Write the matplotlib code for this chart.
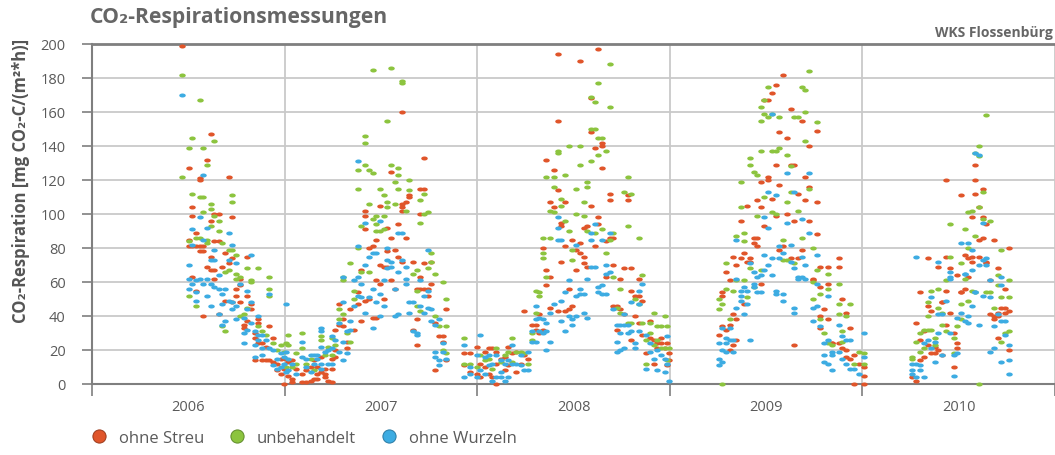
import numpy as np
import matplotlib
matplotlib.use("Agg")
import matplotlib.pyplot as plt
from matplotlib.lines import Line2D
from matplotlib.ticker import MultipleLocator, FixedLocator, FixedFormatter

plt.rcParams['font.family'] = ['Open Sans', 'DejaVu Sans']

ohne_streu = [
    # 2006
    (2006.467, [199]), (2006.502, [127, 85, 81]), (2006.519, [104, 99, 81, 63]),
    (2006.540, [89, 81, 55]), (2006.560, [120, 121, 81, 78]), (2006.578, [81, 78, 40]),
    (2006.598, [132, 69]), (2006.619, [147, 96, 75, 67]), (2006.636, [100, 84, 67, 62]),
    (2006.657, [100, 84, 41]), (2006.674, [69]), (2006.691, [77, 49]),
    (2006.712, [122, 71]), (2006.729, [98, 74, 48]), (2006.750, [56, 52]),
    (2006.767, [62, 58, 48]), (2006.788, [35, 33]), (2006.807, [75, 52, 37]),
    (2006.826, [47, 44]), (2006.845, [30, 27, 14]), (2006.864, [38, 36, 24]),
    (2006.884, [24, 14]), (2006.902, [14, 22]), (2006.921, [34, 14]),
    (2006.940, [27, 13]), (2006.960, [12, 8]), (2006.979, [15, 6]), (2006.997, [9, 0]),
    # 2007
    (2007.005, [15]), (2007.019, [13, 5]), (2007.036, [3, 14, 1]), (2007.057, [9]),
    (2007.092, [6, 1]), (2007.112, [8, 1]), (2007.135, [10, 2]), (2007.152, [14, 3]),
    (2007.169, [10, 6, 3]), (2007.190, [16, 7]), (2007.209, [9, 6, 4]), (2007.226, [2]),
    (2007.247, [15, 9, 1]), (2007.264, [32, 20, 16]), (2007.285, [47, 35]), (2007.304, [38, 34]),
    (2007.325, [25, 21]), (2007.342, [44]), (2007.359, [32]), (2007.380, [54, 47]),
    (2007.399, [67, 37]), (2007.418, [102, 99, 91, 49]), (2007.437, [80, 50]), (2007.458, [81, 39]),
    (2007.475, [85, 61, 39]), (2007.496, [105, 70, 59]), (2007.515, [50, 69]), (2007.534, [92, 78, 69]),
    (2007.554, [125, 86, 61]), (2007.572, [79, 56]), (2007.589, [94, 75]),
    (2007.610, [160, 104, 102, 72, 106]), (2007.629, [107, 86]), (2007.648, [111, 110]),
    (2007.668, [72, 32]), (2007.687, [56, 38, 23]), (2007.705, [115, 100, 63, 56]),
    (2007.725, [133, 115, 56, 71]), (2007.743, [56, 52]), (2007.762, [72, 59]),
    (2007.782, [36, 8]), (2007.800, [28]), (2007.820, [28, 25]), (2007.839, [44, 14]),
    (2007.930, [18, 11]), (2007.965, [18, 7]), (2007.997, [22, 6]),
    # 2008
    (2008.017, [12, 4]), (2008.038, [19, 10]), (2008.059, [21, 6]), (2008.079, [21, 4]),
    (2008.100, [19, 12, 0]), (2008.121, [15]), (2008.142, [16, 8]), (2008.162, [22, 11]),
    (2008.183, [18]), (2008.204, [19, 7]), (2008.225, [12]), (2008.245, [17, 43]),
    (2008.266, [15]), (2008.283, [35]), (2008.304, [35, 32]), (2008.321, [41, 30]),
    (2008.342, [80, 32]), (2008.359, [132, 67, 58]), (2008.380, [107, 45, 63]),
    (2008.399, [126, 104]), (2008.418, [194, 155, 114, 43]), (2008.437, [95, 93, 72]),
    (2008.456, [107, 81, 43]), (2008.475, [56, 44]), (2008.494, [85, 46]), (2008.515, [67, 79]),
    (2008.534, [190, 83, 77]), (2008.553, [92, 75, 71]), (2008.572, [93, 69]),
    (2008.591, [168, 148, 105]), (2008.610, [139, 81]), (2008.629, [197, 98, 94]),
    (2008.649, [142, 140, 127]), (2008.667, [84, 63]), (2008.687, [112, 108, 86]),
    (2008.706, [86, 70, 46]), (2008.725, [46, 32]), (2008.744, [62, 44]), (2008.763, [68, 41]),
    (2008.782, [111, 108]), (2008.801, [68, 55, 26]), (2008.820, [52, 40]),
    (2008.839, [62, 52, 36]), (2008.858, [49, 29]), (2008.877, [18]), (2008.896, [37, 27]),
    (2008.917, [26, 12]), (2008.936, [24, 21]), (2008.955, [27, 24]), (2008.974, [21]),
    (2008.985, [24, 11]), (2008.995, [18, 14]),
    # 2009
    (2009.255, [29]), (2009.273, [54, 52, 34]), (2009.290, [66, 32]), (2009.311, [61, 35, 20]),
    (2009.328, [75, 41, 23]), (2009.345, [70, 38, 26]), (2009.368, [96, 74]), (2009.385, [77, 47]),
    (2009.403, [105, 72]), (2009.415, [74, 72]), (2009.436, [86, 83]), (2009.455, [108, 86, 81]),
    (2009.472, [119, 104, 59]), (2009.491, [167, 93]), (2009.509, [167, 120, 122]),
    (2009.530, [171, 109]), (2009.550, [176, 129, 99]), (2009.568, [148, 117, 79]),
    (2009.589, [182, 81]), (2009.608, [145, 100]), (2009.627, [162, 129, 74]),
    (2009.646, [129, 96, 23]), (2009.665, [112, 74]), (2009.684, [155, 79]),
    (2009.703, [108, 122]), (2009.724, [140, 116, 96]), (2009.741, [61, 62]),
    (2009.762, [149, 107, 88]), (2009.780, [69, 40, 57, 33]), (2009.800, [44]),
    (2009.819, [69, 59, 38]), (2009.842, [24, 24]), (2009.877, [74, 69, 24]), (2009.894, [50, 21]),
    (2009.915, [42, 20, 16]), (2009.936, [33, 15]), (2009.955, [0, 17]), (2009.981, [12]),
    # 2010
    (2010.007, [10, 5, 0]), (2010.260, [4]), (2010.280, [36, 2]), (2010.301, [54, 26, 14]),
    (2010.318, [31, 16]), (2010.339, [46, 74, 23]), (2010.356, [43, 18]), (2010.377, [22, 18]),
    (2010.394, [69, 20]), (2010.415, [48, 48, 17]), (2010.436, [120, 55, 75, 35]),
    (2010.453, [68, 42]), (2010.474, [30, 10]), (2010.491, [64, 24, 21]), (2010.512, [111, 54, 54]),
    (2010.531, [76, 56]), (2010.550, [63, 74]), (2010.567, [98, 75, 72]), (2010.587, [129, 120, 112]),
    (2010.607, [104, 85, 75]), (2010.626, [115, 98, 86]), (2010.644, [94, 72, 71]),
    (2010.664, [61, 41]), (2010.683, [85, 40, 38]), (2010.702, [68, 42, 40, 27]),
    (2010.721, [45]), (2010.740, [56, 45, 42]), (2010.761, [80, 43, 20]),
]

unbehandelt = [
    # 2006
    (2006.467, [182, 122]), (2006.502, [139, 84, 52]), (2006.519, [145, 112]), (2006.540, [86, 46]),
    (2006.560, [167, 110, 86]), (2006.578, [139, 110, 101]), (2006.598, [129, 85, 83]),
    (2006.619, [103, 93, 106]), (2006.636, [143, 99]), (2006.657, [96, 90]), (2006.674, [83, 34]),
    (2006.691, [66, 31]), (2006.712, [79, 67]), (2006.729, [111, 107, 79]), (2006.750, [76, 65, 62]),
    (2006.767, [63, 40]), (2006.788, [41]), (2006.807, [68, 45]), (2006.826, [61, 60]),
    (2006.864, [68, 34]), (2006.884, [31]), (2006.902, [29]), (2006.921, [63, 56, 52]),
    (2006.940, [24]), (2006.960, [20]), (2006.979, [23]), (2006.997, [19]),
    # 2007
    (2007.005, [24, 10]), (2007.019, [29, 23]), (2007.036, [10]), (2007.057, [18, 12]),
    (2007.092, [30, 21]), (2007.112, [12]), (2007.135, [15]), (2007.152, [8]),
    (2007.190, [28, 26]), (2007.209, [17]), (2007.226, [22]), (2007.247, [27, 17]),
    (2007.264, [23]), (2007.285, [38, 44]), (2007.304, [63, 61, 41]), (2007.325, [30]),
    (2007.342, [71, 25]), (2007.359, [50, 55]), (2007.380, [115, 126, 80]), (2007.399, [93, 66]),
    (2007.418, [146, 142, 129]), (2007.437, [126, 106, 66]), (2007.458, [185, 124, 97]),
    (2007.475, [99, 94, 90]), (2007.496, [115, 90]), (2007.515, [111, 99, 91]),
    (2007.534, [155, 107, 104]), (2007.554, [186, 129]), (2007.572, [119, 106]),
    (2007.589, [127, 123, 115]), (2007.610, [178, 177]), (2007.629, [102]), (2007.648, [120, 114]),
    (2007.668, [65]), (2007.687, [67, 55, 46]), (2007.705, [108, 95, 43]), (2007.725, [112, 100]),
    (2007.743, [101, 68]), (2007.762, [77, 72]), (2007.782, [65, 40]), (2007.800, [34]),
    (2007.820, [60, 20]), (2007.839, [50, 34, 18]), (2007.930, [27, 12]), (2007.965, [12]),
    (2007.997, [10]),
    # 2008
    (2008.017, [17]), (2008.038, [14]), (2008.059, [15]), (2008.079, [9]), (2008.100, [21]),
    (2008.121, [13]), (2008.142, [17]), (2008.162, [19]), (2008.183, [27, 13]), (2008.204, [19]),
    (2008.225, [19]), (2008.245, [18]), (2008.266, [12]), (2008.283, [30, 26]), (2008.304, [55, 42]),
    (2008.321, [54, 52]), (2008.342, [86, 77, 74]), (2008.359, [122, 63]), (2008.380, [102, 86]),
    (2008.399, [122, 116, 101]), (2008.418, [137, 136]), (2008.437, [109, 105]), (2008.456, [123, 96]),
    (2008.475, [140, 90]), (2008.494, [79, 73]), (2008.515, [115, 100]), (2008.534, [140, 129]),
    (2008.553, [107, 99]), (2008.572, [119, 116, 90]), (2008.591, [169, 150, 131]),
    (2008.610, [166, 150, 89]), (2008.629, [177, 145, 135]), (2008.649, [145, 91]),
    (2008.667, [137, 77]), (2008.687, [188, 163, 85]), (2008.706, [89, 63]), (2008.725, [45]),
    (2008.744, [56, 42]), (2008.763, [113]), (2008.782, [122, 93, 36]), (2008.801, [112, 36]),
    (2008.820, [50]), (2008.839, [86, 47]), (2008.858, [64, 36]), (2008.877, [26, 12]),
    (2008.896, [36, 30]), (2008.917, [42, 23]), (2008.936, [34, 26]), (2008.955, [34, 21]),
    (2008.974, [40, 21]), (2008.985, [34, 14]), (2008.995, [21]),
    # 2009
    (2009.255, [50, 44]), (2009.273, [47, 0]), (2009.290, [71, 56]), (2009.311, [38]),
    (2009.328, [55]), (2009.345, [87, 61]), (2009.368, [119, 104]), (2009.385, [89, 84, 61]),
    (2009.403, [51]), (2009.415, [133, 129, 68]), (2009.436, [125, 57]), (2009.455, [123, 99]),
    (2009.472, [163, 155, 137, 67]), (2009.491, [167, 159, 110]), (2009.509, [175, 157]),
    (2009.530, [159, 137, 101]), (2009.550, [137, 100]), (2009.568, [139, 157]), (2009.589, [85, 73]),
    (2009.608, [135, 107, 73]), (2009.627, [128, 113]), (2009.646, [157, 71]), (2009.665, [157, 102]),
    (2009.684, [175, 86]), (2009.703, [173, 160, 143]), (2009.724, [184, 115]),
    (2009.741, [60, 50, 80]), (2009.762, [154, 67]), (2009.780, [53, 38]), (2009.800, [30]),
    (2009.819, [65, 56, 24]), (2009.842, [23]), (2009.877, [59, 47, 41]), (2009.894, [31, 25]),
    (2009.915, [40]), (2009.936, [47]), (2009.955, [12]), (2009.981, [19]),
    # 2010
    (2010.007, [18, 12]), (2010.260, [16, 15]), (2010.280, [25]), (2010.301, [30, 19]),
    (2010.318, [32, 21]), (2010.339, [48, 40, 32]), (2010.356, [55, 32]), (2010.377, [27, 23]),
    (2010.394, [56, 45]), (2010.415, [35, 42]), (2010.436, [61, 31]), (2010.453, [94, 75]),
    (2010.474, [27, 18]), (2010.491, [34]), (2010.512, [71, 47, 38]), (2010.531, [91, 62]),
    (2010.550, [101, 80, 49]), (2010.567, [102, 55]), (2010.587, [136, 87, 54]),
    (2010.607, [140, 134, 104, 0]), (2010.626, [113, 97]), (2010.644, [158, 54]),
    (2010.664, [96, 54]), (2010.683, [45]), (2010.702, [64, 58]), (2010.721, [79, 51, 25]),
    (2010.740, [30]), (2010.761, [61, 51, 31]),
]

ohne_wurzeln = [
    # 2006
    (2006.467, [170]), (2006.502, [70, 62, 56]), (2006.519, [91, 82, 59]), (2006.540, [54, 49, 61]),
    (2006.560, [62, 98]), (2006.578, [123, 85, 59]), (2006.598, [92, 62, 52]), (2006.619, [73, 46, 59]),
    (2006.636, [79, 73, 57]), (2006.657, [64, 56, 41]), (2006.674, [53, 47, 35]), (2006.691, [37, 56]),
    (2006.712, [89, 73, 49]), (2006.729, [82, 48, 44]), (2006.750, [71, 46, 38]), (2006.767, [59]),
    (2006.788, [39, 30, 24]), (2006.807, [55, 44, 32]), (2006.826, [76, 48, 36]),
    (2006.845, [31, 23, 16]), (2006.864, [40, 29, 26]), (2006.884, [29, 21, 17]), (2006.902, [26]),
    (2006.921, [53, 21]), (2006.940, [20, 11]), (2006.960, [15, 9]), (2006.979, [18, 10]),
    (2006.997, [16, 12]),
    # 2007
    (2007.005, [47, 19, 7]), (2007.019, [15, 8]), (2007.036, [12]), (2007.057, [6]),
    (2007.092, [25, 16]), (2007.112, [15, 10]), (2007.135, [17, 7]), (2007.152, [17, 12]),
    (2007.169, [17, 15]), (2007.190, [33, 31, 22, 12, 9]), (2007.209, [19]), (2007.226, [20, 12]),
    (2007.247, [28, 21, 12]), (2007.264, [26]), (2007.285, [36, 19]), (2007.304, [48, 63, 25, 14]),
    (2007.325, [31, 18]), (2007.342, [37, 32]), (2007.359, [61, 46]), (2007.380, [131, 81, 52, 63]),
    (2007.399, [59, 51]), (2007.418, [95, 70, 42]), (2007.437, [75, 51]), (2007.458, [77, 33, 56]),
    (2007.475, [77, 48]), (2007.496, [96, 53, 40]), (2007.515, [61, 46]), (2007.534, [80, 73, 68]),
    (2007.554, [72, 69]), (2007.572, [40, 56]), (2007.589, [89, 66, 41]), (2007.610, [89, 73]),
    (2007.629, [62, 59, 69]), (2007.648, [48, 42]), (2007.668, [48, 31]), (2007.687, [29, 30]),
    (2007.705, [61, 46]), (2007.725, [52, 42]), (2007.743, [55, 45, 79]), (2007.762, [44, 37]),
    (2007.782, [35, 19, 16]), (2007.800, [38, 11, 14]), (2007.820, [24, 19]), (2007.839, [15]),
    (2007.930, [23, 4]), (2007.965, [6, 10]), (2007.997, [17, 4]),
    # 2008
    (2008.017, [29, 8]), (2008.038, [16, 6]), (2008.059, [17, 11]), (2008.079, [12, 2]),
    (2008.100, [17, 4]), (2008.121, [14, 7, 4]), (2008.142, [12, 2]), (2008.162, [14, 4]),
    (2008.183, [23, 12]), (2008.204, [12]), (2008.225, [17, 11]), (2008.245, [8]), (2008.266, [19, 8]),
    (2008.283, [25, 31]), (2008.304, [46, 38, 25]), (2008.321, [39, 31]), (2008.342, [38, 30]),
    (2008.359, [20, 31, 36]), (2008.380, [42, 25]), (2008.399, [47]), (2008.418, [98, 92, 85]),
    (2008.437, [85, 49, 37]), (2008.456, [54, 31]), (2008.475, [61, 40]), (2008.494, [38, 35]),
    (2008.515, [82, 52, 40]), (2008.534, [56, 53]), (2008.553, [53, 42]), (2008.572, [62, 39]),
    (2008.591, [89, 85, 69]), (2008.610, [94, 69]), (2008.629, [57, 54]), (2008.649, [85, 58, 53]),
    (2008.667, [70, 65, 53]), (2008.687, [89, 66]), (2008.706, [44]), (2008.725, [35, 25, 19]),
    (2008.744, [35, 20, 30]), (2008.763, [41, 35, 21]), (2008.782, [30, 35]), (2008.801, [48, 31]),
    (2008.820, [24, 21]), (2008.839, [55, 47, 31]), (2008.858, [59]), (2008.877, [29, 9]),
    (2008.896, [24, 19]), (2008.917, [15]), (2008.936, [20, 8]), (2008.955, [17]),
    (2008.974, [15, 7]), (2008.985, [28, 12]), (2008.995, [2]),
    # 2009
    (2009.255, [24, 15, 11]), (2009.273, [33, 20, 13]), (2009.290, [27, 24, 19]), (2009.311, [33, 26]),
    (2009.328, [26, 19]), (2009.345, [85, 62, 45]), (2009.368, [55, 52, 49]), (2009.385, [57, 41]),
    (2009.403, [55, 47]), (2009.415, [71, 26]), (2009.436, [66, 57, 59]), (2009.455, [63, 54]),
    (2009.472, [64, 54]), (2009.491, [98, 76, 67]), (2009.509, [113, 92, 70]), (2009.530, [159, 74, 64]),
    (2009.550, [111, 55, 53]), (2009.568, [81, 74]), (2009.589, [77, 53, 49]), (2009.608, [124, 95]),
    (2009.627, [82, 72]), (2009.646, [113, 42, 68, 45]), (2009.665, [62, 63]), (2009.684, [97, 75, 63]),
    (2009.703, [70, 62]), (2009.724, [124, 89]), (2009.741, [45, 37]), (2009.762, [76, 59, 46]),
    (2009.780, [34]), (2009.800, [24, 17, 13]), (2009.819, [52, 26, 12]), (2009.842, [19, 17, 8]),
    (2009.877, [35, 19]), (2009.894, [28, 15]), (2009.915, [26, 12]), (2009.936, [26, 9]),
    (2009.955, [9]), (2009.981, [6]),
    # 2010
    (2010.007, [16, 30]), (2010.260, [12, 8, 6]), (2010.280, [75, 12, 4]), (2010.301, [11, 8]),
    (2010.318, [24, 4]), (2010.339, [26]), (2010.356, [51, 21]), (2010.377, [25, 13]),
    (2010.394, [72, 30, 41]), (2010.415, [41, 17]), (2010.436, [49]), (2010.453, [66, 63, 30, 62]),
    (2010.474, [17, 5]), (2010.491, [39, 18]), (2010.512, [42, 83]), (2010.531, [65, 37, 65]),
    (2010.550, [83, 40, 36]), (2010.567, [79, 67, 46]), (2010.587, [136, 54, 54]),
    (2010.607, [135, 70, 35]), (2010.626, [95, 73, 52]), (2010.644, [70, 74]), (2010.664, [61, 19, 51]),
    (2010.683, [34, 21]), (2010.702, [41]), (2010.721, [63, 58, 37, 13]), (2010.740, [37, 29]),
    (2010.761, [23, 14, 6]),
]

years = [2006, 2007, 2008, 2009, 2010]
series_names = ['ohne Streu', 'unbehandelt', 'ohne Wurzeln']
colors = ['#E0552A', '#8CC43F', '#3DACE2']
edge_colors = ['#9a3a1c', '#5f8a2a', '#2a7aa3']


def flatten(groups):
    xs, ys = [], []
    for d, vals in groups:
        xs.extend([d] * len(vals))
        ys.extend(vals)
    return np.array(xs), np.array(ys)


# small horizontal ellipse as marker
t = np.linspace(0, 2 * np.pi, 40)
ellipse = np.column_stack([np.cos(t), 0.62 * np.sin(t)])

fig = plt.figure(figsize=(10.55, 4.56), dpi=100)
ax = fig.add_axes([92 / 1055, 71 / 456, 963 / 1055, 340 / 456])

for groups, c in zip([ohne_streu, unbehandelt, ohne_wurzeln], colors):
    x, y = flatten(groups)
    ax.scatter(x, y, s=22, marker=ellipse, color=c, linewidths=0, clip_on=False, zorder=3)

ax.set_xlim(2006, 2011)
ax.set_ylim(0, 200)

grid_c = '#c9c9c9'
spine_c = '#7f7f7f'
text_c = '#5a5a5a'

ax.yaxis.set_major_locator(MultipleLocator(20))
ax.xaxis.set_major_locator(FixedLocator([2006, 2007, 2008, 2009, 2010, 2011]))
ax.xaxis.set_major_formatter(FixedFormatter([''] * 6))
ax.xaxis.set_minor_locator(FixedLocator([y + 0.5 for y in years]))
ax.xaxis.set_minor_formatter(FixedFormatter([str(y) for y in years]))

ax.grid(True, which='major', color=grid_c, linewidth=1.3, zorder=0)
ax.set_axisbelow(True)

ax.tick_params(axis='y', which='major', direction='out', length=7, width=1.2,
               color=spine_c, labelcolor=text_c, labelsize=10.5, pad=12)
ax.tick_params(axis='x', which='major', direction='out', length=8.5, width=1.2, color=spine_c)
ax.tick_params(axis='x', which='minor', length=0, labelcolor=text_c, labelsize=10.5, pad=11)

for side in ['top', 'left', 'bottom']:
    ax.spines[side].set_color(spine_c)
    ax.spines[side].set_linewidth(1.5)
ax.spines['top'].set_linewidth(2)
ax.spines['right'].set_visible(False)

fig.text(90 / 1055, 1 - 18 / 456, 'CO₂-Respirationsmessungen', fontsize=15.2,
         fontweight='bold', color='#666666', ha='left', va='center')
fig.text(1053 / 1055, 1 - 33 / 456, 'WKS Flossenbürg', fontsize=10,
         fontweight='bold', color='#666666', ha='right', va='center')
fig.text(21 / 1055, 1 - 181 / 456, 'CO₂-Respiration [mg CO₂-C/(m²*h)]', fontsize=12,
         fontweight='bold', color='#555555', rotation=90, ha='center', va='center')

handles = [Line2D([], [], ls='', marker='o', markersize=9.5, markerfacecolor=c,
                  markeredgecolor=e, markeredgewidth=0.7)
           for c, e in zip(colors, edge_colors)]
fig.legend(handles, series_names, loc='center left', bbox_to_anchor=(91 / 1055, 1 - 439 / 456),
           ncol=3, frameon=False, fontsize=12, handlelength=1.0, handletextpad=0.7,
           columnspacing=1.45, borderaxespad=0, borderpad=0, labelcolor=text_c)

fig.savefig('out.png', dpi=100)
